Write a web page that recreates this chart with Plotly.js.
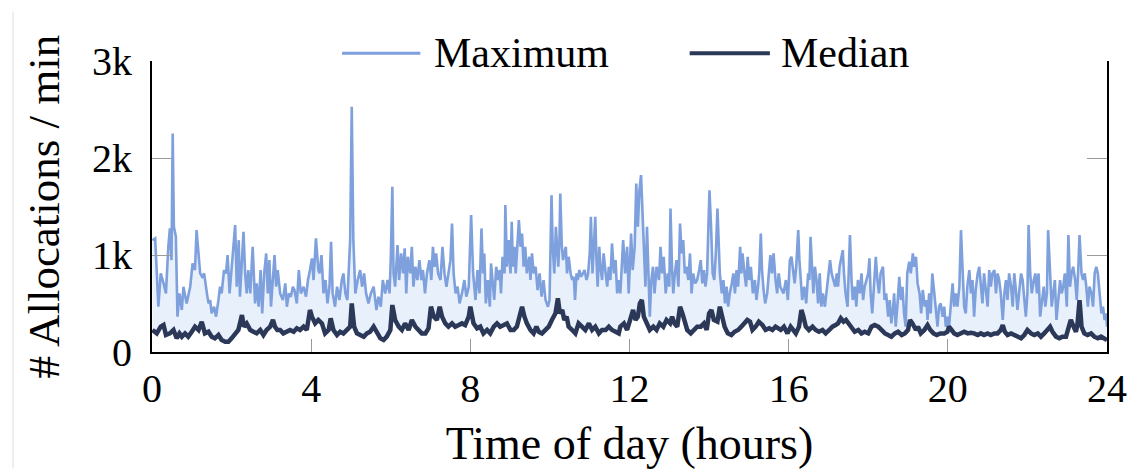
<!DOCTYPE html>
<html>
<head>
<meta charset="utf-8">
<script src="https://cdn.plot.ly/plotly-3.0.1.min.js"></script>
<style>html,body{margin:0;padding:0;background:#fff;}#chart{width:1132px;height:469px;}</style>
</head>
<body>
<div id="chart"></div>
<script>
// Time of day (hours) and allocations/min
const maxHours = [0.01,0.08,0.16,0.22,0.29,0.35,0.41,0.45,0.49,0.52,0.55,0.60,0.64,0.69,0.75,0.79,0.87,0.96,1.02,1.08,1.12,1.17,1.21,1.26,1.31,1.38,1.42,1.46,1.50,1.56,1.61,1.67,1.71,1.75,1.81,1.86,1.90,1.95,2.00,2.05,2.09,2.13,2.18,2.21,2.26,2.30,2.34,2.38,2.42,2.47,2.53,2.59,2.63,2.68,2.73,2.77,2.82,2.87,2.91,2.95,2.99,3.04,3.08,3.12,3.16,3.22,3.29,3.35,3.39,3.44,3.49,3.54,3.58,3.64,3.69,3.74,3.81,3.87,3.92,3.97,4.02,4.06,4.12,4.18,
4.21,4.26,4.31,4.36,4.41,4.46,4.50,4.54,4.60,4.65,4.71,4.77,4.81,4.86,4.91,4.98,5.02,5.06,5.11,5.17,5.23,5.28,5.33,5.38,5.44,5.50,5.57,5.64,5.69,5.75,5.80,5.86,5.92,5.97,6.00,6.04,6.07,6.11,6.17,6.21,6.26,6.31,6.35,6.39,6.43,6.49,6.53,6.57,6.62,6.67,6.72,6.77,6.81,6.86,6.91,6.97,7.02,7.06,7.10,7.14,7.19,7.25,7.30,7.35,7.40,7.45,7.50,7.54,7.58,7.63,7.68,7.73,7.79,7.85,7.90,7.96,
8.02,8.07,8.13,8.18,8.23,8.28,8.32,8.35,8.39,8.44,8.49,8.52,8.56,8.60,8.65,8.70,8.74,8.77,8.81,8.86,8.88,8.92,8.96,9.01,9.04,9.07,9.11,9.14,9.17,9.22,9.26,9.30,9.34,9.38,9.42,9.48,9.51,9.55,9.59,9.64,9.69,9.74,9.79,9.84,9.89,9.95,9.99,10.01,10.04,10.07,10.11,10.15,10.18,10.21,10.24,10.26,10.30,10.33,10.36,10.40,10.43,10.47,10.52,10.56,10.60,10.63,10.67,10.70,10.74,10.78,10.83,10.87,10.92,10.96,11.00,11.03,11.07,11.10,11.14,11.17,11.20,11.24,11.27,11.31,11.35,11.40,11.44,11.48,11.52,11.56,11.61,11.65,11.69,11.73,
11.77,11.84,11.89,11.94,11.98,12.04,12.08,12.13,12.17,12.21,12.25,12.29,12.33,12.36,12.40,12.44,12.48,12.51,12.55,12.59,12.63,12.68,12.74,12.78,12.82,12.86,12.91,12.96,13.00,13.03,13.07,13.10,13.14,13.18,13.23,13.27,13.31,13.35,13.39,13.43,13.48,13.52,13.56,13.60,13.65,13.70,13.75,13.79,13.83,13.87,13.91,13.95,13.98,14.01,14.05,14.09,14.13,14.17,14.21,14.24,14.27,14.32,14.36,14.40,14.44,14.48,14.52,14.57,14.61,14.65,14.69,14.73,14.78,14.81,14.84,14.89,14.93,14.97,15.01,15.05,15.10,15.15,15.19,15.23,15.26,15.30,15.33,15.37,15.41,15.46,15.51,15.54,15.58,15.62,15.67,15.71,15.75,15.79,
15.87,15.93,15.98,16.03,16.07,16.12,16.15,16.19,16.24,16.27,16.30,16.34,16.39,16.44,16.49,16.52,16.55,16.59,16.62,16.66,16.70,16.74,16.78,16.82,16.86,16.91,16.96,17.00,17.04,17.08,17.12,17.17,17.21,17.24,17.28,17.33,17.36,17.39,17.43,17.48,17.51,17.54,17.58,17.61,17.66,17.70,17.74,17.79,17.83,17.87,17.91,17.95,18.00,18.03,18.06,18.10,18.15,18.19,18.23,18.27,18.31,18.37,18.41,18.45,18.50,18.54,18.58,18.62,18.65,18.69,18.73,18.78,18.82,18.86,18.90,18.94,18.98,19.03,19.07,19.12,19.15,19.20,19.24,19.29,19.33,19.37,19.42,19.46,19.49,19.53,19.57,19.61,19.66,19.70,19.74,19.78,
19.82,19.87,19.91,19.95,19.99,20.03,20.08,20.12,20.16,20.20,20.24,20.29,20.33,20.37,20.41,20.45,20.49,20.54,20.58,20.62,20.66,20.70,20.75,20.79,20.83,20.87,20.91,20.96,21.00,21.04,21.08,21.12,21.17,21.21,21.25,21.29,21.33,21.38,21.42,21.46,21.50,21.54,21.59,21.63,21.67,21.71,21.75,21.79,21.84,21.88,21.92,21.96,22.00,22.03,22.07,22.11,22.16,22.20,22.24,22.28,22.32,22.37,22.41,22.45,22.49,22.52,22.57,22.61,22.65,22.69,22.73,22.78,22.82,22.86,22.90,22.94,22.99,23.03,23.07,23.11,23.15,23.20,23.24,23.28,23.31,23.36,23.40,23.44,23.48,23.52,23.56,23.61,23.65,23.69,23.73,23.77,23.82,23.86,23.90,23.94,23.98,24.00];
const maxValues = [1153,1171,467,810,707,604,1085,1274,947,2252,1291,1188,364,604,433,673,501,673,913,845,1256,1016,810,776,810,604,501,536,398,467,364,536,673,604,845,810,999,604,845,1119,1308,673,1153,570,1016,1239,810,604,845,604,1085,501,707,467,845,398,810,1016,604,947,467,810,999,673,845,604,536,707,467,604,570,673,639,501,845,604,673,570,742,845,965,742,1171,845,
810,999,604,742,501,673,1136,604,467,673,536,742,810,604,536,1153,2527,1153,604,742,845,673,810,604,501,604,673,433,570,467,742,604,742,604,947,1703,810,673,1102,742,1016,810,1068,604,982,810,1085,673,879,742,947,742,845,604,810,947,742,1085,879,1016,810,742,1085,810,673,810,947,1325,810,604,673,501,604,742,570,673,
1411,810,536,845,604,1274,810,1016,501,742,467,913,707,536,879,742,845,604,982,810,1514,879,1153,810,1342,879,1085,810,1016,1359,1085,1222,879,1085,810,982,742,1016,810,879,639,810,570,742,536,467,536,1016,1617,1085,810,1291,1085,879,1153,1634,1085,947,1016,1085,810,982,810,742,776,536,810,742,845,776,810,845,742,810,1016,1394,810,1016,1394,947,673,1085,879,742,1016,810,673,879,742,1119,810,947,604,742,
604,1153,810,1085,604,1222,845,1085,1737,1291,1668,1823,1428,1016,673,1291,810,364,742,879,604,879,742,1085,810,982,604,810,673,1480,845,604,810,947,673,1325,1016,1153,810,879,742,1016,604,810,707,742,845,947,707,845,673,810,1256,1668,1291,810,742,1016,1480,1016,810,604,742,501,673,467,604,707,810,604,845,673,1085,810,1016,810,673,982,742,879,604,742,536,673,810,1222,845,639,501,604,810,999,810,1016,742,604,810,673,
604,742,536,947,982,810,707,879,1256,947,742,536,673,501,810,742,1188,810,604,879,742,501,810,467,604,467,673,810,947,810,742,673,810,673,879,982,1050,810,604,467,810,1205,742,536,673,467,742,604,810,536,673,742,810,965,604,398,707,982,742,604,810,879,536,604,364,536,295,433,604,261,467,776,536,673,398,261,810,930,810,1016,879,982,707,604,398,639,467,536,330,604,398,810,604,398,261,467,
501,364,467,261,364,261,536,707,467,604,467,673,1256,810,467,398,673,845,604,742,364,639,810,879,707,501,810,604,467,845,673,810,845,604,810,742,604,330,604,742,536,810,673,467,810,639,433,604,810,742,536,364,604,1308,810,604,742,810,604,810,364,536,673,467,604,1256,742,467,604,742,330,536,742,604,673,810,467,1205,673,810,879,742,536,879,1205,810,742,810,673,467,673,604,467,810,879,810,604,398,467,330,398,261];

const medHours = [0.01,0.12,0.22,0.29,0.35,0.45,0.54,0.62,0.69,0.75,0.83,0.91,1.00,1.08,1.17,1.25,1.33,1.42,1.50,1.58,1.67,1.75,1.84,1.92,2.00,2.09,2.17,2.26,2.31,2.38,2.47,2.55,2.63,2.72,2.80,2.88,2.97,3.04,3.09,3.15,3.22,3.30,3.39,3.47,3.56,3.64,3.72,3.81,3.89,3.97,4.02,4.10,4.18,
4.27,4.35,4.44,4.49,4.56,4.65,4.73,4.81,4.90,4.98,5.02,5.08,5.15,5.23,5.32,5.40,5.48,5.57,5.65,5.74,5.82,5.90,5.99,6.04,6.11,6.20,6.28,6.36,6.45,6.53,6.62,6.70,6.78,6.87,6.95,7.01,7.08,7.16,7.23,7.29,7.37,7.45,7.54,7.62,7.71,7.79,7.87,7.96,
8.00,8.08,8.17,8.25,8.33,8.42,8.50,8.59,8.67,8.75,8.84,8.92,9.01,9.09,9.17,9.24,9.30,9.36,9.42,9.51,9.59,9.66,9.72,9.80,9.89,9.97,10.05,10.14,10.20,10.25,10.31,10.36,10.42,10.47,10.56,10.64,10.72,10.81,10.89,10.98,11.06,11.14,11.23,11.31,11.40,11.48,11.56,11.65,11.73,
11.77,11.86,11.94,12.03,12.09,12.15,12.21,12.26,12.31,12.36,12.43,12.51,12.60,12.68,12.76,12.85,12.93,13.02,13.07,13.13,13.20,13.27,13.33,13.38,13.45,13.54,13.62,13.70,13.79,13.87,13.94,14.00,14.06,14.12,14.21,14.27,14.33,14.39,14.47,14.56,14.64,14.73,14.81,14.89,14.96,15.03,15.09,15.17,15.25,15.34,15.42,15.51,15.59,15.67,15.76,
15.80,15.88,15.97,16.05,16.18,16.26,16.32,16.37,16.43,16.51,16.60,16.68,16.76,16.85,16.93,17.02,17.10,17.18,17.24,17.31,17.38,17.44,17.51,17.58,17.66,17.75,17.83,17.91,18.00,18.08,18.16,18.25,18.33,18.42,18.50,18.58,18.67,18.75,18.84,18.92,19.00,19.05,19.11,19.20,19.25,19.32,19.41,19.49,19.56,19.64,19.72,19.81,
19.91,19.99,20.03,20.09,20.16,20.24,20.33,20.41,20.50,20.58,20.66,20.75,20.83,20.91,21.00,21.08,21.17,21.25,21.33,21.38,21.43,21.50,21.59,21.67,21.75,21.84,21.92,22.00,22.09,22.17,22.26,22.34,22.42,22.51,22.57,22.63,22.72,22.80,22.88,22.97,23.03,23.09,23.16,23.22,23.26,23.31,23.36,23.43,23.51,23.60,23.68,23.77,23.85,23.93,24.00];
const medValues = [227,192,261,278,175,192,227,141,192,158,192,158,209,261,227,312,192,209,158,141,175,124,106,106,141,192,227,381,261,295,227,209,192,227,175,227,261,330,261,227,227,192,209,227,209,244,227,261,227,433,364,295,330,
295,192,227,347,227,175,209,192,227,261,501,261,192,175,158,192,209,261,192,141,124,158,227,484,330,261,227,295,227,330,261,227,192,192,244,467,364,330,467,364,295,261,295,261,278,295,278,364,
467,295,244,261,192,227,192,261,295,261,278,295,227,227,261,364,467,364,295,227,192,261,209,192,227,261,330,398,553,398,433,330,364,261,227,192,295,261,227,295,227,261,192,227,227,261,227,209,192,
261,295,227,330,433,330,364,501,536,364,295,227,261,227,295,261,330,295,364,295,261,467,398,330,227,192,227,261,261,295,227,398,433,330,312,467,364,261,192,175,209,227,261,295,330,312,227,261,312,278,227,244,227,261,244,
227,261,192,261,192,261,433,364,261,227,261,227,209,227,192,227,261,278,295,347,312,330,295,261,209,227,192,209,192,261,278,261,227,192,175,158,192,209,175,192,227,330,295,227,261,192,227,278,227,192,175,192,
192,209,261,227,192,175,192,209,192,199,192,175,192,175,192,175,192,192,227,278,209,175,192,175,158,141,175,227,192,175,192,158,192,227,261,209,158,141,158,158,261,330,261,209,295,535,261,192,175,192,158,141,158,141,124];

const xTickVals = [0,4,8,12,16,20,24];
const yTickVals = [0,1000,2000,3000];
const yTickText = ['0','1k','2k','3k'];
const seriesNames = ['Maximum','Median'];

const maxColor = '#7ea0dc';
const medColor = '#2b3858';
const serif = 'Liberation Serif, Times New Roman, serif';

const traces = [
  {x: medHours, y: medValues, type:'scatter', mode:'lines', line:{width:0, color:medColor}, showlegend:false, hoverinfo:'skip'},
  {x: maxHours, y: maxValues, type:'scatter', mode:'lines', name: seriesNames[0], line:{width:2.6, color:maxColor}, fill:'tonexty', fillcolor:'rgba(205,222,246,0.45)'},
  {x: medHours, y: medValues, type:'scatter', mode:'lines', name: seriesNames[1], line:{width:4.5, color:medColor}, showlegend:false}
];

const layout = {
  width:1132, height:469,
  margin:{l:152, r:25, t:61, b:117},
  paper_bgcolor:'#fff', plot_bgcolor:'#fff',
  showlegend:false,
  font:{family:serif, color:'#000'},
  xaxis:{
    range:[0,24], tickvals:xTickVals, ticks:'inside', ticklen:13, tickcolor:'#9a9a9a', tickwidth:1,
    showline:true, linecolor:'#000', linewidth:2, showgrid:false, zeroline:false,
    tickfont:{family:serif, size:40, color:'#000'},
    title:{text:'Time of day (hours)', font:{family:serif, size:46, color:'#000'}, standoff:22}
  },
  yaxis:{
    range:[0,3000], tickvals:yTickVals, ticktext:yTickText, ticks:'inside', ticklen:20, tickcolor:'#9a9a9a', tickwidth:1,
    showline:true, linecolor:'#000', linewidth:2, mirror:'ticks', showgrid:false, zeroline:false,
    tickfont:{family:serif, size:40, color:'#000'}, ticklabelstandoff:10,
    title:{text:'# Allocations / min', font:{family:serif, size:45, color:'#000'}, standoff:18}
  },
  shapes:[
    {type:'line', xref:'paper', yref:'paper', x0:0.199, x1:0.281, y0:1.027, y1:1.027, line:{color:maxColor, width:3}},
    {type:'line', xref:'paper', yref:'paper', x0:0.563, x1:0.647, y0:1.027, y1:1.027, line:{color:medColor, width:4}},
    {type:'line', xref:'paper', yref:'paper', x0:-0.1455, x1:-0.1455, y0:-0.40, y1:1.17, line:{color:'#dddddd', width:1}}
  ],
  annotations:[
    {text:seriesNames[0], xref:'paper', yref:'paper', x:0.293, y:1.027, xanchor:'left', yanchor:'middle', showarrow:false, font:{family:serif, size:42, color:'#000'}},
    {text:seriesNames[1], xref:'paper', yref:'paper', x:0.657, y:1.027, xanchor:'left', yanchor:'middle', showarrow:false, font:{family:serif, size:42, color:'#000'}}
  ]
};

Plotly.newPlot('chart', traces, layout, {displayModeBar:false, staticPlot:true});
</script>
</body>
</html>
